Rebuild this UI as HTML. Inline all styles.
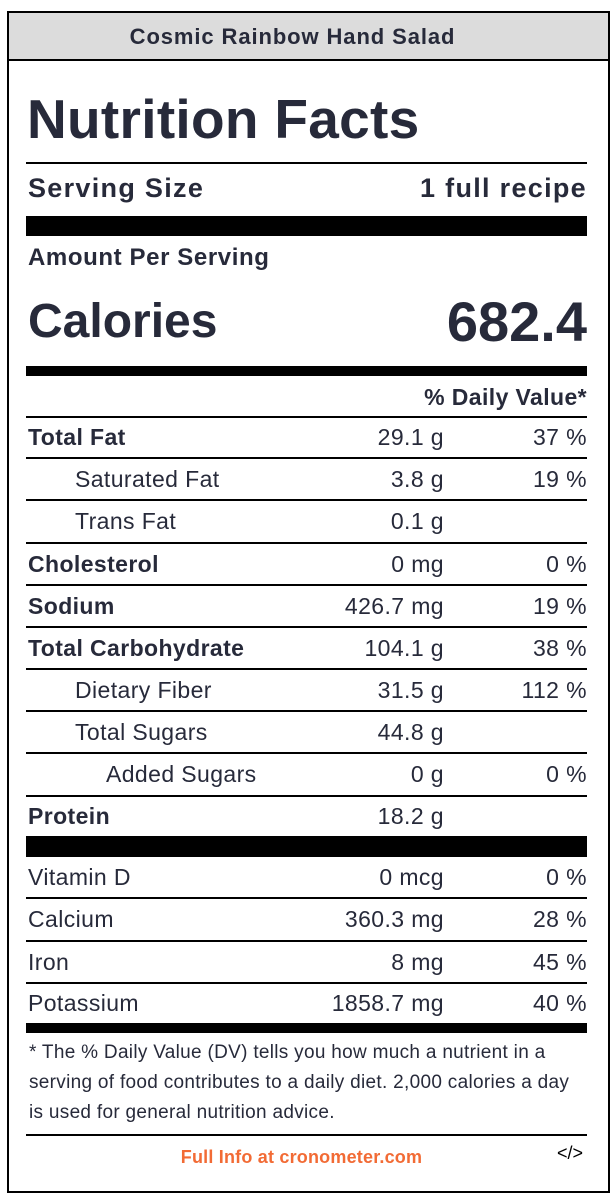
<!DOCTYPE html>
<html><head><meta charset="utf-8"><style>
*{margin:0;padding:0;box-sizing:border-box}
body{width:616px;height:1202px;background:#fff;position:relative;font-family:"Liberation Sans",Arial,sans-serif;color:#272a3a;overflow:hidden}
.a{position:absolute}
.box{left:7px;top:11px;width:603px;height:1182px;border:2px solid #000}
.hdr{left:9px;top:13px;width:599px;height:48px;background:#dcdcdc;border-bottom:2px solid #000;text-align:center;font-weight:bold;font-size:22px;letter-spacing:0.9px;line-height:48px;padding-right:32px}
.ln{left:26px;width:561px;height:2px;background:#000}
.bar{left:26px;width:561px;background:#000}
.row{left:28px;width:559px;font-size:23px;letter-spacing:0.4px}
.row span{position:absolute;top:0}
.n{left:0}
.v{right:143px}
.p{right:0}
.b{font-weight:bold}
</style></head><body>
<div class="a box"></div>
<div class="a hdr">Cosmic Rainbow Hand Salad</div>
<div class="a b" style="left:27px;top:86px;font-size:55px;line-height:66px;letter-spacing:0.3px">Nutrition Facts</div>
<div class="a ln" style="top:162px"></div>
<div class="a row b" style="top:170px;height:36px;line-height:36px;font-size:27px;letter-spacing:1.3px"><span class="n">Serving Size</span><span class="p">1 full recipe</span></div>
<div class="a bar" style="top:216px;height:20px"></div>
<div class="a row b" style="top:243px;height:30px;line-height:30px;font-size:24px;letter-spacing:0.6px"><span class="n">Amount Per Serving</span></div>
<div class="a row b" style="top:290px;height:64px;line-height:64px;font-size:48px;letter-spacing:0"><span class="n">Calories</span><span class="p" style="font-size:56px">682.4</span></div>
<div class="a bar" style="top:366px;height:10px"></div>
<div class="a row b" style="top:378px;height:38px;line-height:38px"><span class="p">% Daily Value*</span></div>
<div class="a ln" style="top:416px"></div>

<div class="a row" style="top:418px;height:39px;line-height:39px"><span class="n b">Total Fat</span><span class="v">29.1 g</span><span class="p">37 %</span></div>
<div class="a ln" style="top:457px"></div>
<div class="a row" style="top:459px;height:40px;line-height:40px"><span class="n" style="left:47px">Saturated Fat</span><span class="v">3.8 g</span><span class="p">19 %</span></div>
<div class="a ln" style="top:499px"></div>
<div class="a row" style="top:501px;height:41px;line-height:41px"><span class="n" style="left:47px">Trans Fat</span><span class="v">0.1 g</span></div>
<div class="a ln" style="top:542px"></div>
<div class="a row" style="top:544px;height:40px;line-height:40px"><span class="n b">Cholesterol</span><span class="v">0 mg</span><span class="p">0 %</span></div>
<div class="a ln" style="top:584px"></div>
<div class="a row" style="top:586px;height:40px;line-height:40px"><span class="n b">Sodium</span><span class="v">426.7 mg</span><span class="p">19 %</span></div>
<div class="a ln" style="top:626px"></div>
<div class="a row" style="top:628px;height:40px;line-height:40px"><span class="n b">Total Carbohydrate</span><span class="v">104.1 g</span><span class="p">38 %</span></div>
<div class="a ln" style="top:668px"></div>
<div class="a row" style="top:670px;height:40px;line-height:40px"><span class="n" style="left:47px">Dietary Fiber</span><span class="v">31.5 g</span><span class="p">112 %</span></div>
<div class="a ln" style="top:710px"></div>
<div class="a row" style="top:712px;height:40px;line-height:40px"><span class="n" style="left:47px">Total Sugars</span><span class="v">44.8 g</span></div>
<div class="a ln" style="top:752px"></div>
<div class="a row" style="top:754px;height:41px;line-height:41px"><span class="n" style="left:78px">Added Sugars</span><span class="v">0 g</span><span class="p">0 %</span></div>
<div class="a ln" style="top:795px"></div>
<div class="a row" style="top:797px;height:39px;line-height:39px"><span class="n b">Protein</span><span class="v">18.2 g</span></div>
<div class="a bar" style="top:836px;height:21px"></div>
<div class="a row" style="top:857px;height:40px;line-height:40px"><span class="n">Vitamin D</span><span class="v">0 mcg</span><span class="p">0 %</span></div>
<div class="a ln" style="top:897px"></div>
<div class="a row" style="top:899px;height:41px;line-height:41px"><span class="n">Calcium</span><span class="v">360.3 mg</span><span class="p">28 %</span></div>
<div class="a ln" style="top:940px"></div>
<div class="a row" style="top:942px;height:40px;line-height:40px"><span class="n">Iron</span><span class="v">8 mg</span><span class="p">45 %</span></div>
<div class="a ln" style="top:982px"></div>
<div class="a row" style="top:984px;height:39px;line-height:39px"><span class="n">Potassium</span><span class="v">1858.7 mg</span><span class="p">40 %</span></div>
<div class="a bar" style="top:1023px;height:10px"></div>
<div class="a" style="left:29px;top:1038px;width:548px;font-size:19px;letter-spacing:0.3px;line-height:30px">* The % Daily Value (DV) tells you how much a nutrient in a serving of food contributes to a daily diet. 2,000 calories a day is used for general nutrition advice.</div>
<div class="a ln" style="top:1134px"></div>
<div class="a b" style="left:26px;top:1146px;width:561px;text-align:center;font-size:18px;letter-spacing:0.2px;line-height:22px;color:#f26b35;padding-right:10px">Full Info at cronometer.com</div>
<div class="a" style="left:557px;top:1142px;font-size:18px;line-height:22px;color:#000">&lt;/&gt;</div>
</body></html>
